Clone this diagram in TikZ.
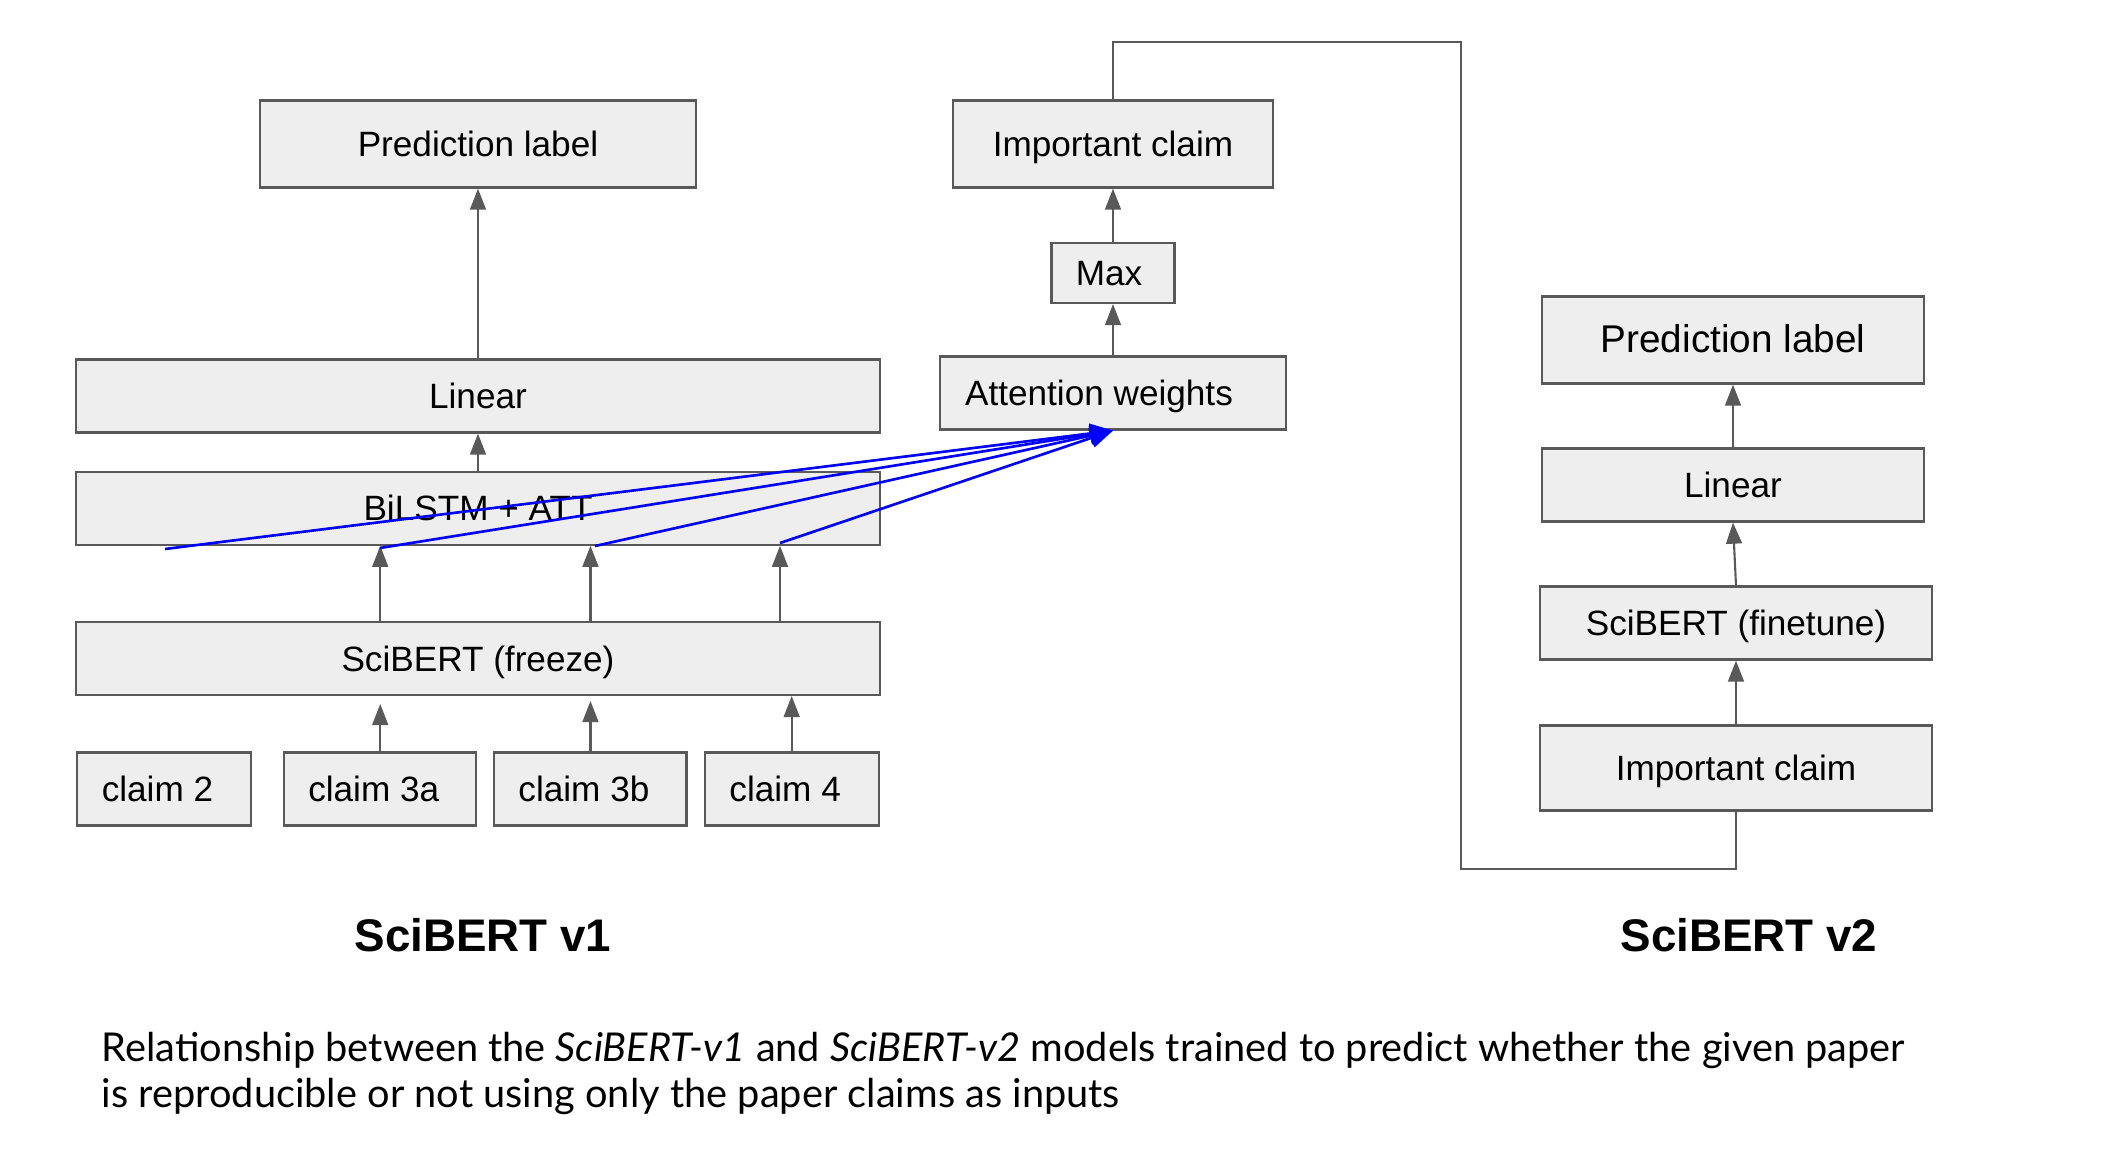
\documentclass[tikz,border=0pt]{standalone}
\usepackage{fontspec}
\setmainfont{Liberation Sans}
\newfontfamily\capfont{Lato}
\usetikzlibrary{positioning,arrows.meta}
\definecolor{boxgray}{HTML}{EEEEEE}
\definecolor{linegray}{HTML}{595959}
\tikzset{
blk/.style={rectangle,draw=linegray,fill=boxgray,line width=0.6pt,
inner sep=0pt,minimum height=0.73cm,text height=0.72em,text depth=0pt,
font=\fontsize{10}{12}\selectfont},
tall/.style={blk,minimum height=0.87cm},
claimbox/.style={blk,execute at begin node=\hspace*{-0.13cm}},
up/.style={draw=linegray,line width=0.6pt,-{Triangle[length=6pt,width=4.5pt]}},
attn/.style={draw=blue,line width=0.75pt,-{Triangle[length=6.5pt,width=5.5pt]}},
wire/.style={draw=linegray,line width=0.6pt},
title/.style={font=\fontsize{13}{15}\selectfont\bfseries,inner sep=0pt},
capline/.style={anchor=base west,inner sep=0pt,font=\capfont\fontsize{11.3}{13}\selectfont}
}
\begin{document}
\begin{tikzpicture}[x=0.01cm,y=-0.01cm]
\useasboundingbox (0,0) rectangle (2120,1154);

% SciBERT v1
\node[tall,minimum width=4.35cm] (P1) at (478,144) {Prediction label};
\node[blk,minimum width=8.03cm] (L1) at (478,396) {Linear};
\node[blk,minimum width=8.03cm,below=0.37cm of L1] (B1) {BiLSTM + ATT};
\node[blk,minimum width=8.03cm,below=0.75cm of B1] (S1) {SciBERT (freeze)};
\node[claimbox,minimum width=1.74cm] (C2) at (164,789) {claim 2};
\node[claimbox,minimum width=1.92cm,right=0.31cm of C2] (C3a) {claim 3a};
\node[claimbox,minimum width=1.92cm,right=0.16cm of C3a] (C3b) {claim 3b};
\node[claimbox,minimum width=1.74cm,right=0.16cm of C3b] (C4) {claim 4};

% attention branch
\node[blk,minimum width=3.46cm] (AW) at (1113,393) {\hspace*{-0.28cm}Attention weights};
\node[blk,minimum width=1.23cm,minimum height=0.6cm] (M) at (1113,273) {\hspace*{-0.08cm}Max};
\node[tall,minimum width=3.19cm] (IC1) at (1113,144) {Important claim};

% SciBERT v2
\node[tall,minimum width=3.81cm,font=\fontsize{11}{13}\selectfont] (P2) at (1733,340) {Prediction label};
\node[blk,minimum width=3.81cm] (L2) at (1733,485) {Linear};
\node[blk,minimum width=3.92cm] (S2) at (1736,623) {SciBERT (finetune)};
\node[blk,minimum width=3.92cm,minimum height=0.85cm] (IC2) at (1736,768) {Important claim};

\node[title] (T1) at (483,935) {SciBERT v1};
\node[title] (T2) at (1749,935) {SciBERT v2};

\node[capline] (cap1) at (101,1061) {Relationship between the \textit{SciBERT-v1} and \textit{SciBERT-v2} models trained to predict whether the given paper};
\node[capline] (cap2) at (101,1107) {is reproducible or not using only the paper claims as inputs};

\coordinate (h1) at (165,549);
\coordinate (h2) at (380,548);
\coordinate (h3) at (595,546);
\coordinate (h4) at (780,543);
\coordinate (k1) at (1461,42);
\coordinate (k2) at (1461,869);

\draw[up] (L1.north) -- (P1.south);
\draw[up] (B1.north) -- (L1.south);
\draw[up] (S1.north -| C3a) -- (B1.south -| C3a);
\draw[up] (S1.north -| C3b) -- (B1.south -| C3b);
\draw[up] (S1.north -| h4) -- (B1.south -| h4);
\draw[up,shorten >=0.08cm] (C3a.north) -- (S1.south -| C3a);
\draw[up,shorten >=0.05cm] (C3b.north) -- (S1.south -| C3b);
\draw[up] (C4.north) -- (S1.south -| C4);

\draw[attn] (h1) -- (AW.south);
\draw[attn] (h2) -- (AW.south);
\draw[attn] (h3) -- (AW.south);
\draw[attn] (h4) -- (AW.south);

\draw[up] (AW.north) -- (M.south);
\draw[up] (M.north) -- (IC1.south);
\draw[wire] (IC1.north) |- (k1) -- (k2) -| (IC2.south);

\draw[up] (IC2.north) -- (S2.south);
\draw[up] (S2.north) -- (L2.south);
\draw[up] (L2.north) -- (P2.south);
%\draw[up] (C2.north) -- (S1.south -| C2);
\end{tikzpicture}
\end{document}
